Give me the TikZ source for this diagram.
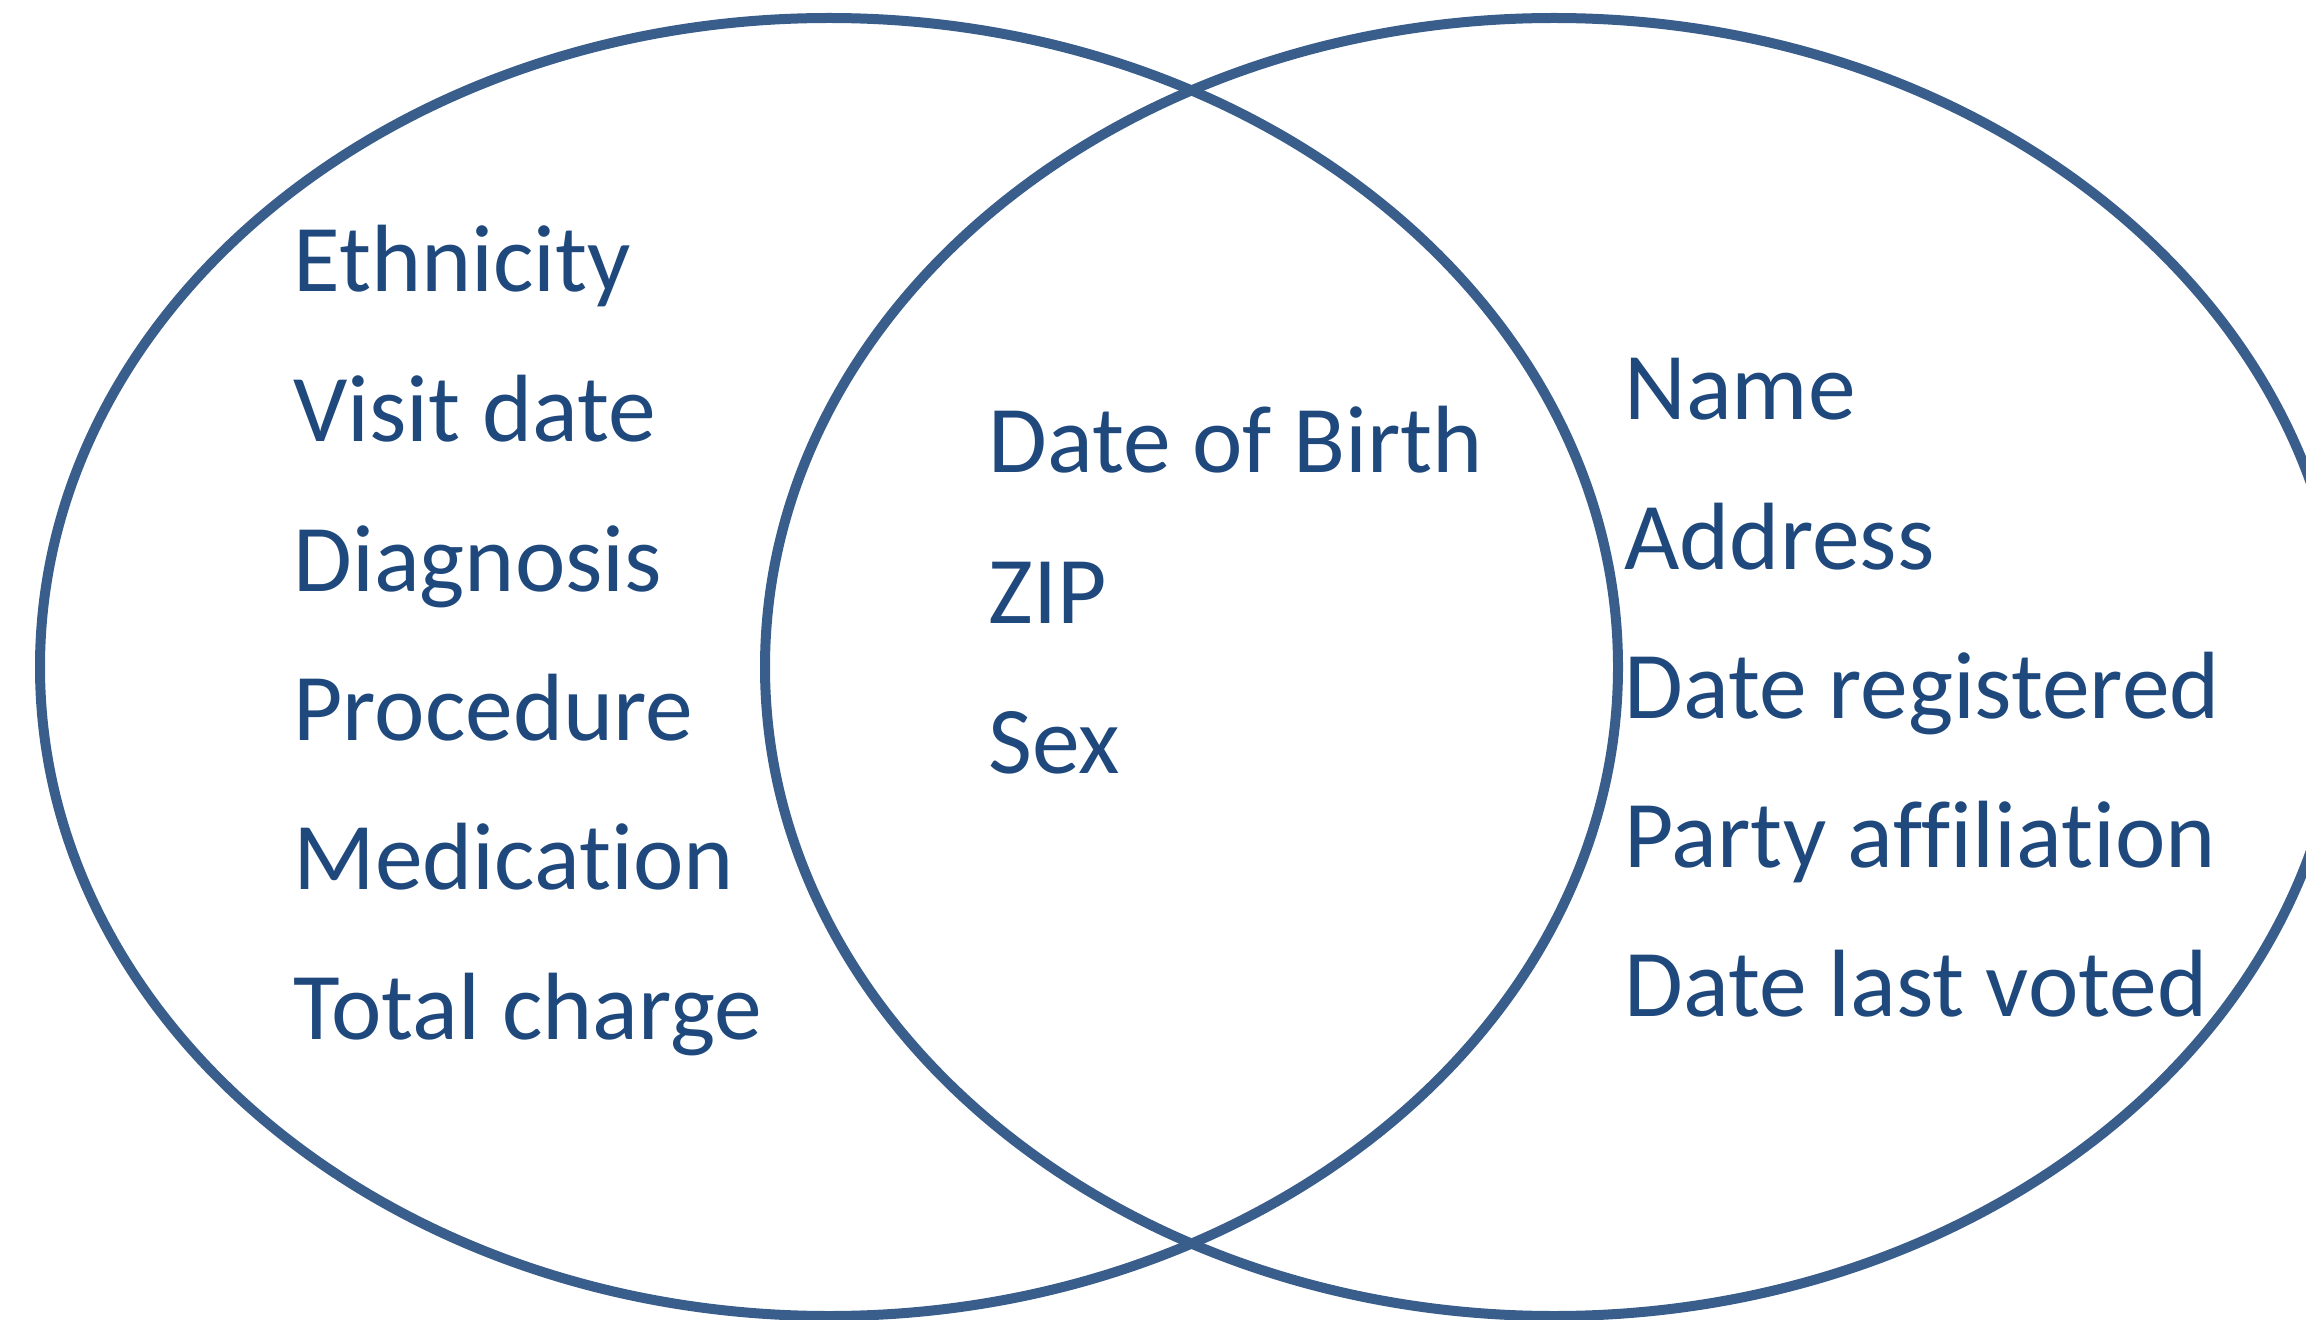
\documentclass[tikz,border=0pt]{standalone}
\usepackage{fontspec}
\setmainfont{Carlito}[Ligatures=NoCommon]
\usepackage{tikz}
\definecolor{ringblue}{HTML}{3A5E8C}
\definecolor{textblue}{HTML}{1F497D}
\tikzset{field/.style={anchor=base west, inner sep=0pt, text=textblue, font=\fontsize{47.8}{57}\selectfont}}
\tikzset{ring/.style={draw=ringblue, line width=5pt}}

\begin{document}
\begin{tikzpicture}[x=0.5pt,y=-0.5pt]
  \clip (0,0) rectangle (2306,1320);
  \draw[ring] (829,667) ellipse [x radius=789, y radius=649];
  \draw[ring] (1554,667) ellipse [x radius=789, y radius=649];
  % hospital side
  \foreach \y/\lab/\txt in {
    292/eth/Ethnicity,
    442/visit/Visit date,
    591/diag/Diagnosis,
    740/proc/Procedure,
    889/med/Medication,
    1039/charge/Total charge%
  } {
    \node[field] (\lab) at (293, \y) {\txt};
  }
  % shared fields
  \foreach \y/\lab/\txt in {
    473/dob/Date of Birth,
    623/zip/ZIP,
    773/sex/Sex%
  } {
    \node[field] (\lab) at (988, \y) {\txt};
  }
  % voter side
  \foreach \y/\lab/\txt in {
    420/name/Name,
    569/addr/Address,
    718/reg/Date registered,
    867/party/Party affiliation,
    1016/voted/Date last voted%
  } {
    \node[field] (\lab) at (1624, \y) {\txt};
  }
\end{tikzpicture}
\end{document}
